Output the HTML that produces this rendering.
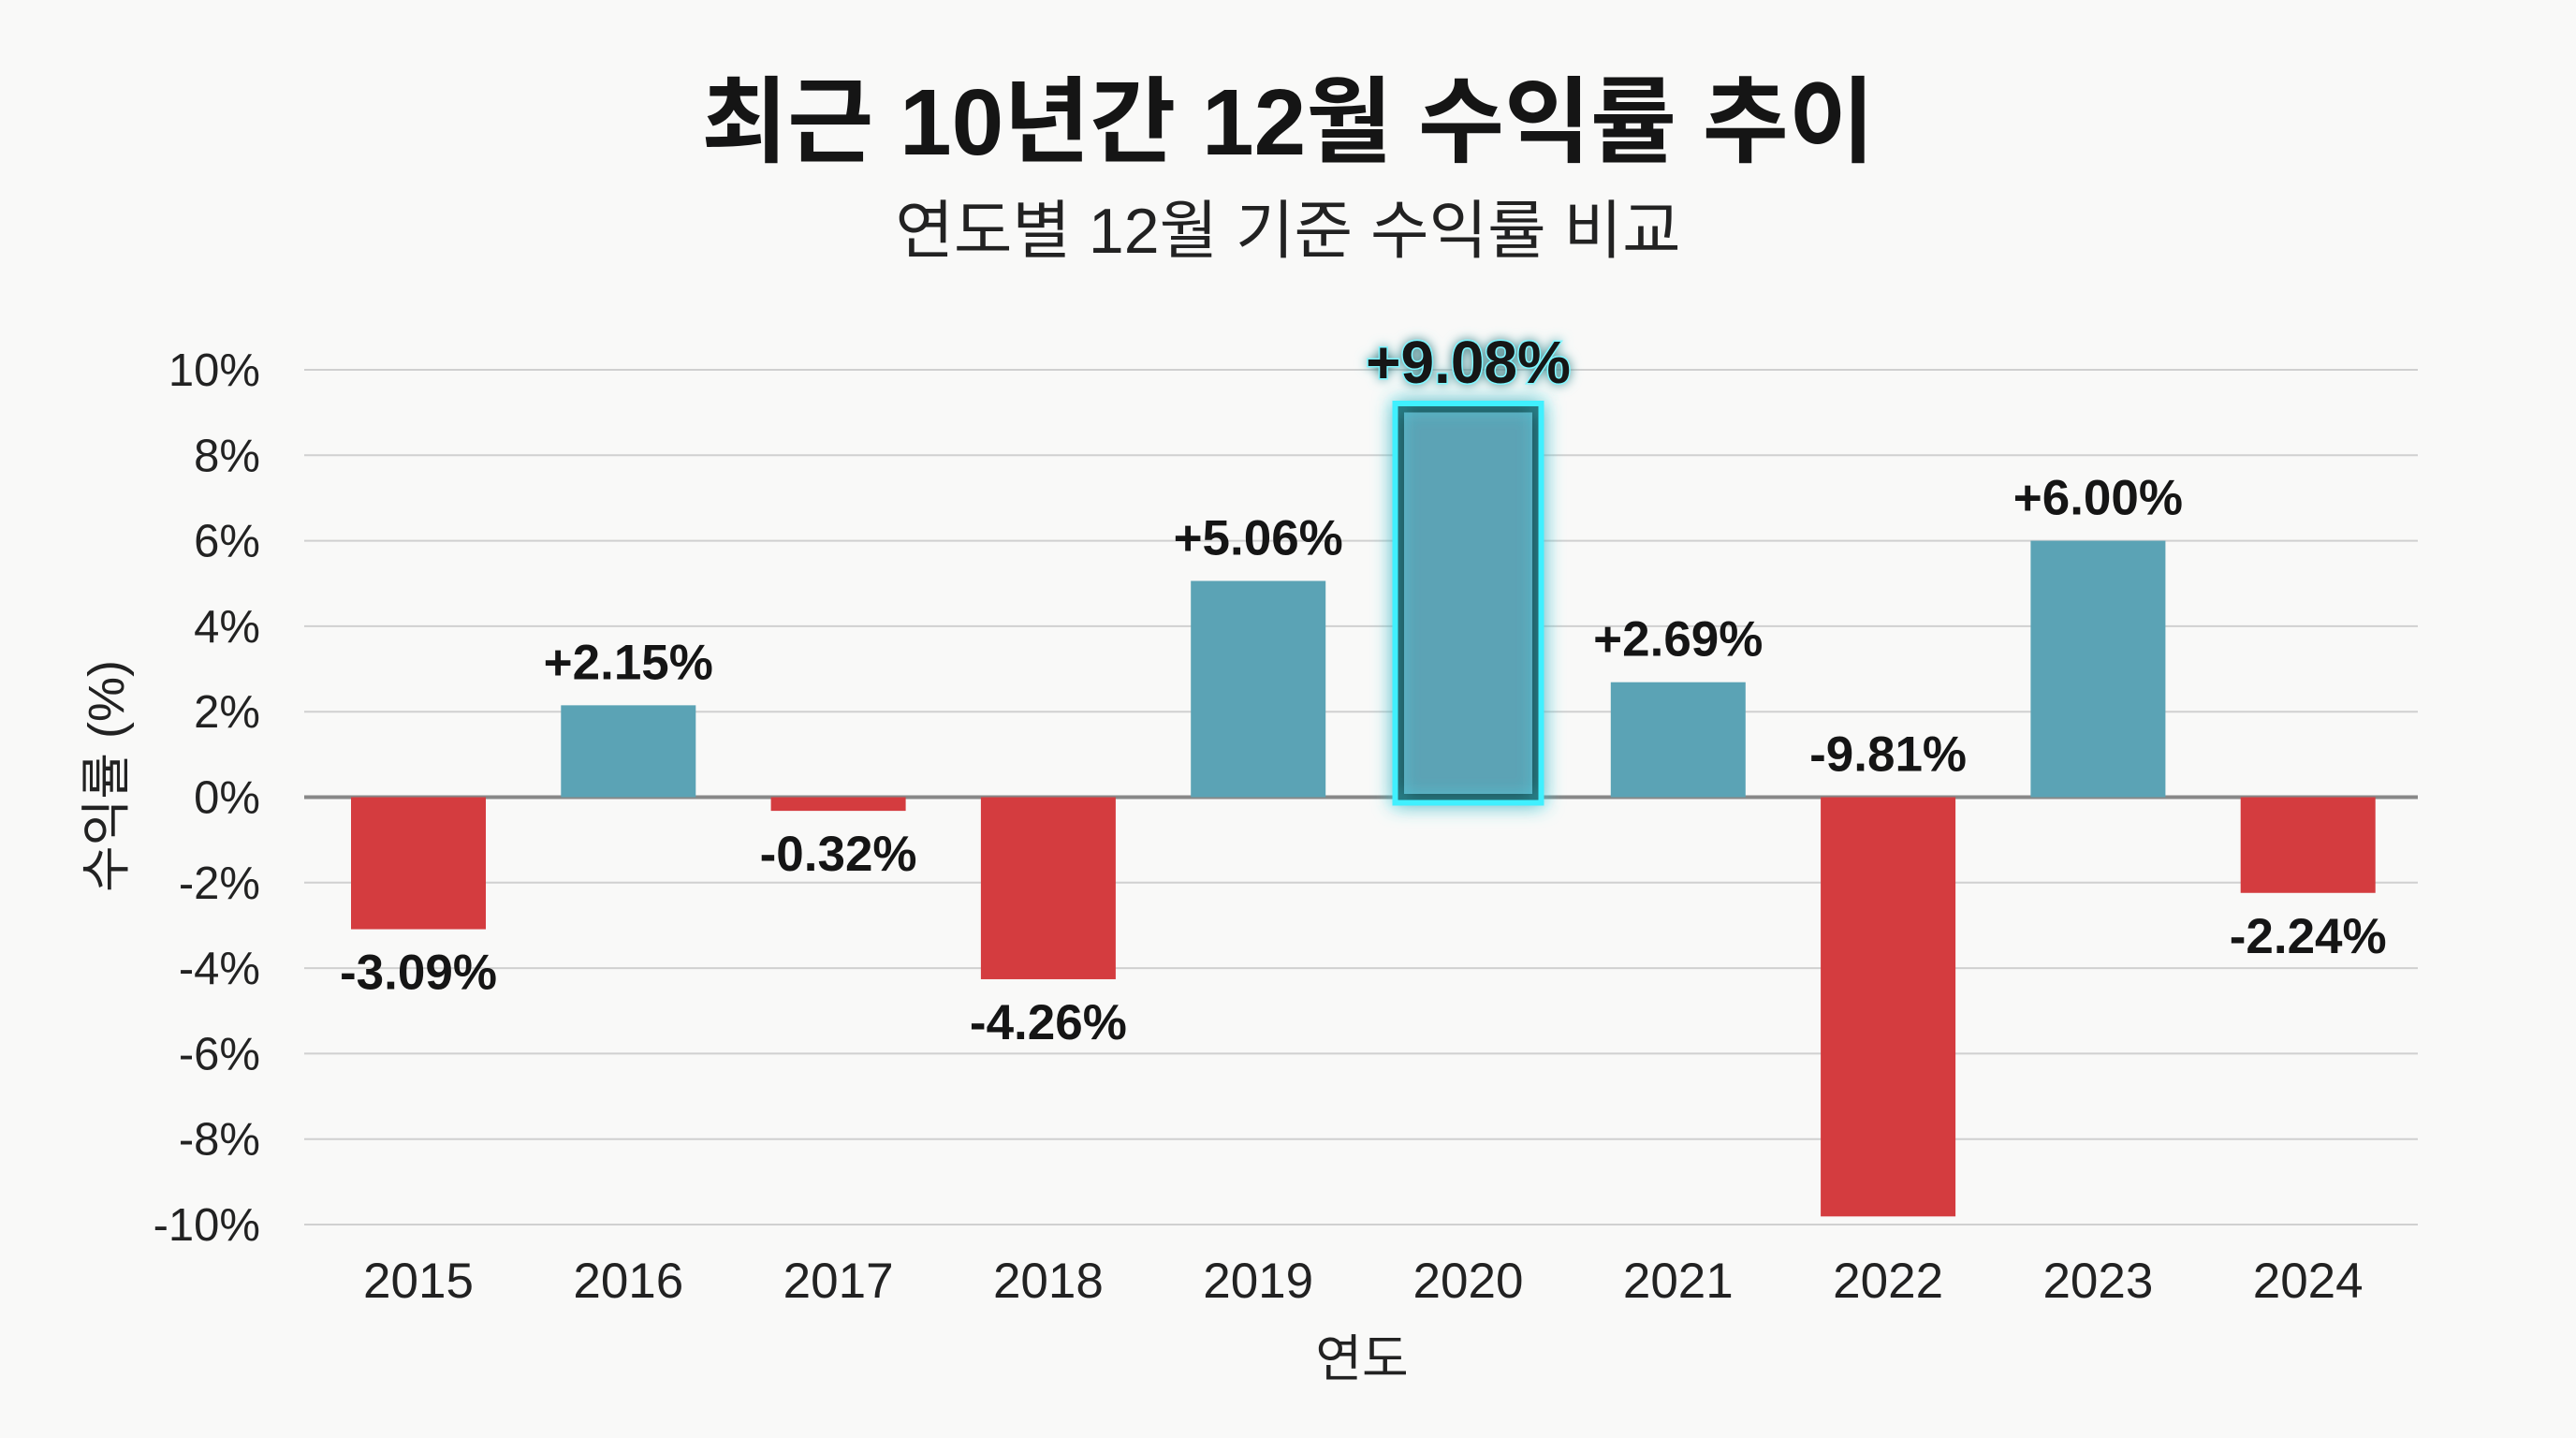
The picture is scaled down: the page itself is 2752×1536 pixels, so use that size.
<!DOCTYPE html>
<html><head><meta charset="utf-8">
<style>
html,body{margin:0;padding:0;background:#f9f9f8;}
svg{display:block;}
text{font-family:"Liberation Sans","Noto Sans CJK KR",sans-serif;}
</style></head>
<body>
<svg id="chart" width="2752" height="1536" viewBox="0 0 2752 1536">
<defs>
<filter id="glow" x="-50%" y="-50%" width="200%" height="200%">
<feGaussianBlur stdDeviation="10" result="b"/>
<feMerge><feMergeNode in="b"/><feMergeNode in="SourceGraphic"/></feMerge>
</filter>
<filter id="tglow" x="-20%" y="-50%" width="140%" height="200%">
<feGaussianBlur stdDeviation="6" result="b"/>
<feMerge><feMergeNode in="b"/><feMergeNode in="SourceGraphic"/></feMerge>
</filter>
</defs>
<rect width="2752" height="1536" fill="#f9f9f8"/>
<text x="1376" y="165" text-anchor="middle" font-size="100" font-weight="bold" fill="#151515">최근 10년간 12월 수익률 추이</text>
<text x="1376" y="270" text-anchor="middle" font-size="68" fill="#222">연도별 12월 기준 수익률 비교</text>
<g id="grid"></g>
<g id="yticks"></g>
<g id="bars"></g>
<g id="xticks"></g>
<g id="vlabels"></g>
<text transform="translate(132,829) rotate(-90)" text-anchor="middle" font-size="54" fill="#222">수익률 (%)</text>
<text x="1455" y="1470" text-anchor="middle" font-size="54" fill="#222">연도</text>
</svg>
<script>
const categories = ["2015","2016","2017","2018","2019","2020","2021","2022","2023","2024"];
const values = [-3.09, 2.15, -0.32, -4.26, 5.06, 9.08, 2.69, -9.81, 6.00, -2.24];
const yTicks = [10, 8, 6, 4, 2, 0, -2, -4, -6, -8, -10];
const highlightIndex = 5;

const NS = "http://www.w3.org/2000/svg";
const plotL = 325, plotR = 2583, yTop = 395, yBot = 1308;
const yMin = -10, yMax = 10;
function yS(v){ return yBot - (v - yMin) / (yMax - yMin) * (yBot - yTop); }
const step = 224.3, x0 = 447;
function xS(i){ return x0 + i * step; }
const bw = 144;
function mk(tag, attrs, parent){ const e = document.createElementNS(NS, tag); for (const k in attrs) e.setAttribute(k, attrs[k]); parent.appendChild(e); return e; }

const grid = document.getElementById("grid"), yt = document.getElementById("yticks");
yTicks.forEach(t => {
  const l = mk("line", {x1: plotL, x2: plotR, y1: yS(t), y2: yS(t), stroke: t === 0 ? "#888" : "#d0d0d0", "stroke-width": t === 0 ? 4 : 2}, grid);
  
  
  const tx = mk("text", {x: 278, y: yS(t) + 17, "text-anchor": "end", "font-size": 49, fill: "#222"}, yt);
  tx.textContent = t + "%";
  
  
});

const bars = document.getElementById("bars"), xt = document.getElementById("xticks"), vl = document.getElementById("vlabels");
values.forEach((v, i) => {
  const cx = xS(i);
  const top = yS(Math.max(v, 0)), bot = yS(Math.min(v, 0));
  const hl = i === highlightIndex;
  const r = mk("rect", {x: cx - bw/2, y: top, width: bw, height: bot - top, fill: v >= 0 ? "#5ba3b5" : "#d43c3f"}, bars);
  if (hl) { r.setAttribute("stroke", "#1f4a4f"); r.setAttribute("stroke-width", 7); r.setAttribute("filter", "url(#glow)");
    const g = mk("rect", {x: cx - bw/2 - 6, y: top - 6, width: bw + 12, height: bot - top + 12, fill: "none", stroke: "#3ff0ff", "stroke-width": 6, filter: "url(#glow)"}, bars);
    
    
  }
  
  
  const xl = mk("text", {x: cx, y: 1386, "text-anchor": "middle", "font-size": 53, fill: "#222"}, xt);
  xl.textContent = categories[i];
  
  
  const label = (v > 0 ? "+" : "") + v.toFixed(2) + "%";
  let ly = v >= 0 ? top - 28 : bot + 64;
  if (v === -9.81) ly = yS(0) - 28;
  const t = mk("text", {x: cx, y: ly, "text-anchor": "middle", "font-size": hl ? 64 : 53, "font-weight": "bold", fill: "#151515"}, vl);
  if (hl) { t.setAttribute("stroke", "#7ff6ff"); t.setAttribute("stroke-width", 3); t.setAttribute("paint-order", "stroke"); t.setAttribute("filter", "url(#tglow)"); }
  t.textContent = label;
  
  
});
</script>
</body></html>
